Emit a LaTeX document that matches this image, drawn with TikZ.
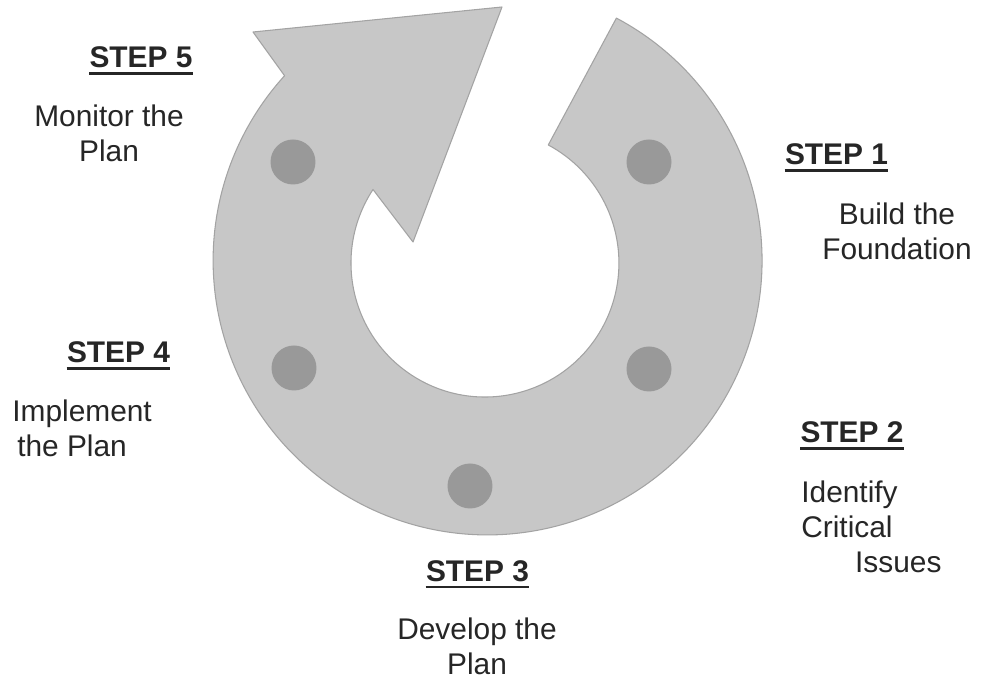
\documentclass[tikz,border=0pt]{standalone}
\usepackage{fontspec}
\setmainfont{Liberation Sans}
\definecolor{ringgray}{gray}{0.78}
\definecolor{ringedge}{gray}{0.64}
\definecolor{dotgray}{gray}{0.6}
\definecolor{inkgray}{gray}{0.15}
\begin{document}
\begin{tikzpicture}[x=0.02cm,y=0.02cm,
  ring/.style={fill=ringgray, draw=ringedge, line width=0.6pt, line join=round},
  dot/.style={circle, fill=dotgray, inner sep=0pt, minimum size=0.9cm},
  steplabel/.style={font=\fontsize{17}{20}\selectfont\bfseries, text=inkgray, inner sep=0pt, anchor=base},
  desc/.style={font=\fontsize{17}{20}\selectfont, text=inkgray, inner sep=0pt, anchor=base},
  uline/.style={draw=inkgray, line width=1.4pt}]
\useasboundingbox (0,0) rectangle (981,679);
\fill[white] (0,0) rectangle (981,679);

% circular arrow: outer rim clockwise from the tail, arrowhead, inner rim back
\filldraw[ring] (616.4,660.9) arc[start angle=62, end angle=-222.3, radius=5.49cm]
  -- (253,647) -- (502,672) -- (413,437) -- (373,489.5)
  arc[start angle=146.7, end angle=421.8, radius=2.68cm] -- cycle;

% step markers on the ring
\node[dot] (p1) at (649,517) {};
\node[dot] (p2) at (649,310) {};
\node[dot] (p3) at (470,193) {};
\node[dot] (p4) at (294,311) {};
\node[dot] (p5) at (293,517) {};

% step titles
\node[steplabel] (s1) at (836.5,514) {STEP 1};
\node[steplabel] (s2) at (852,236) {STEP 2};
\node[steplabel] (s3) at (477.5,97.3) {STEP 3};
\node[steplabel] (s4) at (118.5,316) {STEP 4};
\node[steplabel] (s5) at (141,611) {STEP 5};
\foreach \s in {s1,s2,s3,s4,s5}
  \draw[uline] ([yshift=-3.1pt]\s.base west) -- ([yshift=-3.1pt]\s.base east);

% step descriptions (anchored at the baseline of their last line)
\node[desc, align=center] (d1) at (897,419) {Build the\\Foundation};
\node[desc, align=left, anchor=base west] (d2) at (801,106) {Identify\\Critical\\\hspace*{30.6pt}Issues};
\node[desc, align=center] (d3) at (477,4) {Develop the\\Plan};
\node[desc, align=left, anchor=base west] (d4) at (12,222.3) {Implement\\\hspace*{2.8pt}the Plan};
\node[desc, align=center] (d5) at (109,517) {Monitor the\\Plan};
\end{tikzpicture}
\end{document}
